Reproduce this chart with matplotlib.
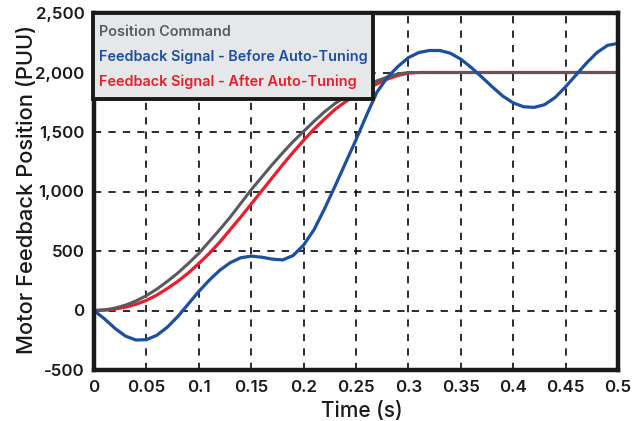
import matplotlib
matplotlib.use("Agg")
import matplotlib.pyplot as plt
from matplotlib.ticker import FuncFormatter
from matplotlib.patches import Rectangle

# ---- data ----
t_cmd = [0.00, 0.01, 0.02, 0.03, 0.04, 0.05, 0.06, 0.07, 0.08, 0.09, 0.10,
         0.11, 0.12, 0.13, 0.14, 0.15, 0.16, 0.17, 0.18, 0.19, 0.20,
         0.21, 0.22, 0.23, 0.24, 0.25, 0.26, 0.27, 0.28, 0.29, 0.30, 0.50]
position_command = [0, 5, 20, 45, 80, 125, 180, 245, 315, 395, 480,
                    580, 680, 785, 900, 1015, 1120, 1225, 1325, 1420, 1505,
                    1590, 1670, 1740, 1795, 1845, 1890, 1930, 1962, 1988, 2000, 2000]

t_after = [0.00, 0.01, 0.02, 0.03, 0.04, 0.05, 0.06, 0.07, 0.08, 0.09, 0.10,
           0.11, 0.12, 0.13, 0.14, 0.15, 0.16, 0.17, 0.18, 0.19, 0.20,
           0.21, 0.22, 0.23, 0.24, 0.25, 0.26, 0.27, 0.28, 0.29, 0.30, 0.31, 0.50]
after_tuning = [0, 3, 12, 28, 52, 85, 130, 185, 245, 315, 395,
                480, 575, 680, 785, 895, 1005, 1115, 1225, 1330, 1430,
                1525, 1610, 1690, 1755, 1810, 1860, 1905, 1945, 1975, 1995, 2000, 2000]

t_before = [0.00, 0.01, 0.02, 0.03, 0.04, 0.05, 0.06, 0.07, 0.08, 0.09, 0.10,
            0.11, 0.12, 0.13, 0.14, 0.15, 0.16, 0.17, 0.18, 0.19, 0.20,
            0.21, 0.22, 0.23, 0.24, 0.25, 0.26, 0.27, 0.28, 0.29, 0.30,
            0.31, 0.32, 0.33, 0.34, 0.35, 0.36, 0.37, 0.38, 0.39, 0.40,
            0.41, 0.42, 0.43, 0.44, 0.45, 0.46, 0.47, 0.48, 0.49, 0.50]
before_tuning = [0, -70, -150, -215, -248, -245, -208, -140, -50, 55, 160,
                 255, 338, 402, 443, 457, 448, 432, 425, 462, 550,
                 680, 855, 1045, 1240, 1435, 1640, 1835, 1960, 2050, 2125,
                 2168, 2185, 2185, 2162, 2112, 2042, 1962, 1880, 1802, 1745,
                 1712, 1707, 1730, 1790, 1880, 1980, 2080, 2168, 2228, 2245]

series_labels = ["Position Command",
                 "Feedback Signal - Before Auto-Tuning",
                 "Feedback Signal - After Auto-Tuning"]
x_ticks = [0, 0.05, 0.1, 0.15, 0.2, 0.25, 0.3, 0.35, 0.4, 0.45, 0.5]
x_tick_labels = ["0", "0.05", "0.1", "0.15", "0.2", "0.25", "0.3", "0.35", "0.4", "0.45", "0.5"]
y_ticks = [-500, 0, 500, 1000, 1500, 2000, 2500]

# ---- style ----
plt.rcParams['font.family'] = ['Inter', 'DejaVu Sans']
GRAY = "#5a5a5c"
BLUE = "#1b4f9f"
RED = "#ee1c2b"
INK = "#1a1a1a"

W, H = 636, 421
fig = plt.figure(figsize=(W / 100, H / 100), dpi=100)
ax_w, ax_h = 618 - 94, 370 - 13
ax = fig.add_axes([94 / W, 1 - 370 / H, ax_w / W, ax_h / H])

ax.plot(t_after, after_tuning, color=RED, lw=2.3, zorder=3, solid_capstyle='butt')
ax.plot(t_cmd, position_command, color=GRAY, lw=2.2, zorder=4, solid_capstyle='butt')
ax.plot(t_before, before_tuning, color=BLUE, lw=2.3, zorder=5, solid_capstyle='butt')

ax.set_xlim(0, 0.5)
ax.set_ylim(-500, 2500)
ax.set_xticks(x_ticks)
ax.set_xticklabels(x_tick_labels)
ax.set_yticks(y_ticks)
ax.yaxis.set_major_formatter(FuncFormatter(lambda v, p: f"{int(v):,}"))

ax.grid(True, color=INK, linestyle=(0, (4, 4)), linewidth=1.3, zorder=1)
ax.set_axisbelow(True)
ax.tick_params(length=0, pad=7, labelsize=12.2, colors=INK)
for lab in ax.get_xticklabels() + ax.get_yticklabels():
    lab.set_fontweight('semibold')
for s in ax.spines.values():
    s.set_linewidth(3.2)
    s.set_color(INK)
    s.set_zorder(8)

ax.set_ylabel("Motor Feedback Position (PUU)", fontsize=15.8, fontweight='medium',
              color=INK)
ax.yaxis.set_label_coords((37 - 94) / ax_w, (370 - 189) / ax_h)
ax.set_xlabel("Time (s)", fontsize=15, fontweight='medium', color=INK)
ax.xaxis.set_label_coords((362 - 94) / ax_w, -(401 - 370) / ax_h)

# legend box drawn as a framed block of coloured labels (no handles)
box = Rectangle((93 / W, 1 - 99 / H), (373 - 93) / W, (99 - 13) / H,
                transform=fig.transFigure, facecolor="#e6e7e8", edgecolor=INK,
                linewidth=2.8, zorder=20, clip_on=False)
fig.patches.append(box)
baselines = [35.7, 60.7, 85.7]
for label, c, yb in zip(series_labels, [GRAY, BLUE, RED], baselines):
    fig.text(99 / W, 1 - yb / H, label, color=c, fontsize=10.4,
             fontweight='semibold', va='baseline', ha='left', zorder=21)

fig.savefig("out.png", dpi=100)
